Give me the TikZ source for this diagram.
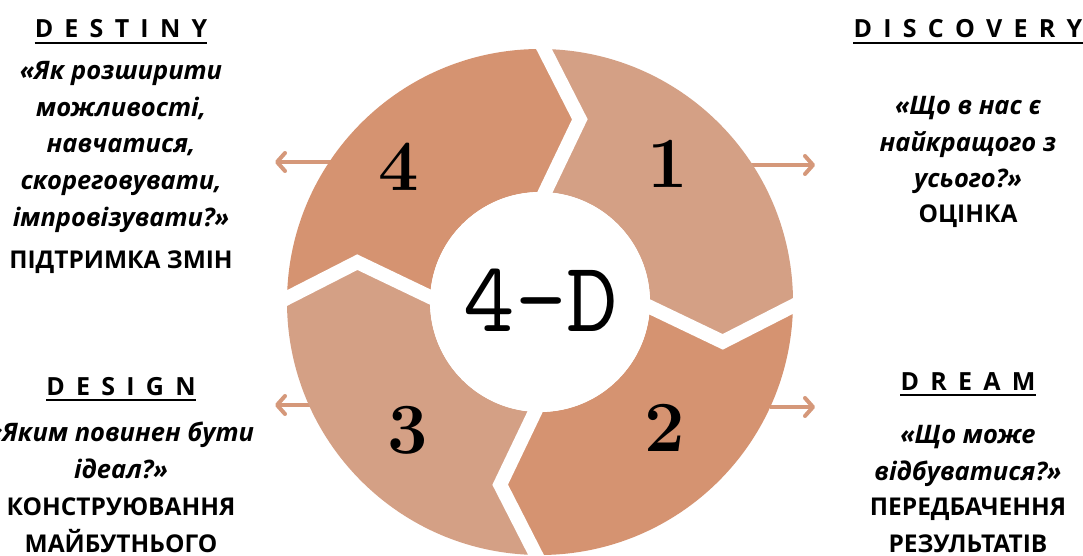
\documentclass[tikz,border=0pt]{standalone}
\usepackage{fontspec}
\usetikzlibrary{arrows.meta,calc}
\newfontfamily\osans{Open Sans}

\definecolor{lightpiece}{RGB}{212,160,133}
\definecolor{darkpiece}{RGB}{213,147,113}
\definecolor{arrowcol}{RGB}{213,152,122}

\newcommand*{\Rout}{253}
\newcommand*{\Rmid}{187}
\newcommand*{\Rin}{110}
\newcommand*{\ls}{\kern0.45em}

\begin{document}
\begin{tikzpicture}
[
	x=1pt, y=1pt,
	head/.style={inner sep=0pt, anchor=base, font=\osans\bfseries\fontsize{25}{30}\selectfont},
	quote/.style={inner sep=0pt, anchor=base, align=center, font=\osans\bfseries\itshape\fontsize{25.5}{36.5}\selectfont},
	label/.style={inner sep=0pt, anchor=base, align=center, font=\osans\bfseries\fontsize{24.5}{37}\selectfont},
	uline/.style={line width=2.2pt, black},
	arr/.style={arrowcol, line width=4pt, -{Straight Barb[length=8pt, width=18pt, round]}},
	num/.style={font=\bfseries\fontsize{72}{72}\selectfont}
]
	\useasboundingbox (0,0) rectangle (1083,555);

	% arrows
	\coordinate (a4s) at (335,393);
	\coordinate (a4e) at (275,393);
	\coordinate (a3s) at (315,150);
	\coordinate (a3e) at (275,150);
	\coordinate (a1s) at (745,390);
	\coordinate (a1e) at (815,390);
	\coordinate (a2s) at (770,148);
	\coordinate (a2e) at (815,148);
	\draw[arr] (a4s) -- (a4e);
	\draw[arr] (a3s) -- (a3e);
	\draw[arr] (a1s) -- (a1e);
	\draw[arr] (a2s) -- (a2e);

	% ring
	\begin{scope}[shift={(540,253)}]
	\foreach \a/\col in {90/lightpiece, 0/darkpiece, -90/lightpiece, 180/darkpiece}
		\fill[\col] (\a-0.9:\Rout) arc[start angle=\a-0.9, end angle=\a-90.9, radius=\Rout]
			-- (\a-102.3:\Rmid) -- (\a-92.6:\Rin)
			arc[start angle=\a-92.6, end angle=\a-2.6, radius=\Rin]
			-- (\a-12.3:\Rmid) -- cycle;
	\foreach \a in {90, 0, -90, 180} {
		\coordinate (go) at (\a-0.9:\Rout);
		\coordinate (gm) at (\a-12.3:\Rmid);
		\coordinate (gi) at (\a-2.6:\Rin);
		\draw[white, line width=14pt] ($(gm)!1.3!(go)$) -- (gm) -- ($(gm)!1.2!(gi)$);
	}
	\fill[white] (0,0) circle[radius=\Rin];
	\end{scope}

	% numbers
	\node[num] (n1) at (668,391) {1};
	\node[num] (n2) at (665,127) {2};
	\node[num] (n3) at (408,125) {3};
	\node[num] (n4) at (399,388) {4};
	\node[font=\ttfamily\fontsize{100}{100}\selectfont] (hub) at (541,255) {4-D};

	% destiny
	\node[head] (destiny) at (121,517) {D\ls E\ls S\ls T\ls I\ls N\ls Y};
	\draw[uline] ([yshift=-5pt]destiny.base west) -- ([yshift=-5pt]destiny.base east);
	\node[quote] (q4) at (121,329) {«Як розширити\\можливості,\\навчатися,\\скореговувати,\\імпровізувати?»};
	\node[label] (l4) at (121,287) {ПІДТРИМКА ЗМІН};

	% design
	\node[head] (design) at (121,160) {D\ls E\ls S\ls I\ls G\ls N};
	\draw[uline] ([yshift=-5pt]design.base west) -- ([yshift=-5pt]design.base east);
	\node[quote] (q3) at (121,77) {«Яким повинен бути\\ідеал?»};
	\node[label] (l3) at (121,3) {КОНСТРУЮВАННЯ\\МАЙБУТНЬОГО};

	% discovery
	\node[head] (discovery) at (968,517) {D\ls I\ls S\ls C\ls O\ls V\ls E\ls R\ls Y};
	\draw[uline] ([yshift=-5pt]discovery.base west) -- ([yshift=-5pt]discovery.base east);
	\node[quote] (q1) at (968,367) {«Що в нас є\\найкращого з\\усього?»};
	\node[label] (l1) at (968,332) {ОЦІНКА};

	% dream
	\node[head] (dream) at (968,165) {D\ls R\ls E\ls A\ls M};
	\draw[uline] ([yshift=-5pt]dream.base west) -- ([yshift=-5pt]dream.base east);
	\node[quote] (q2) at (968,75) {«Що може\\відбуватися?»};
	\node[label] (l2) at (968,3) {ПЕРЕДБАЧЕННЯ\\РЕЗУЛЬТАТІВ};

\end{tikzpicture}
\end{document}
